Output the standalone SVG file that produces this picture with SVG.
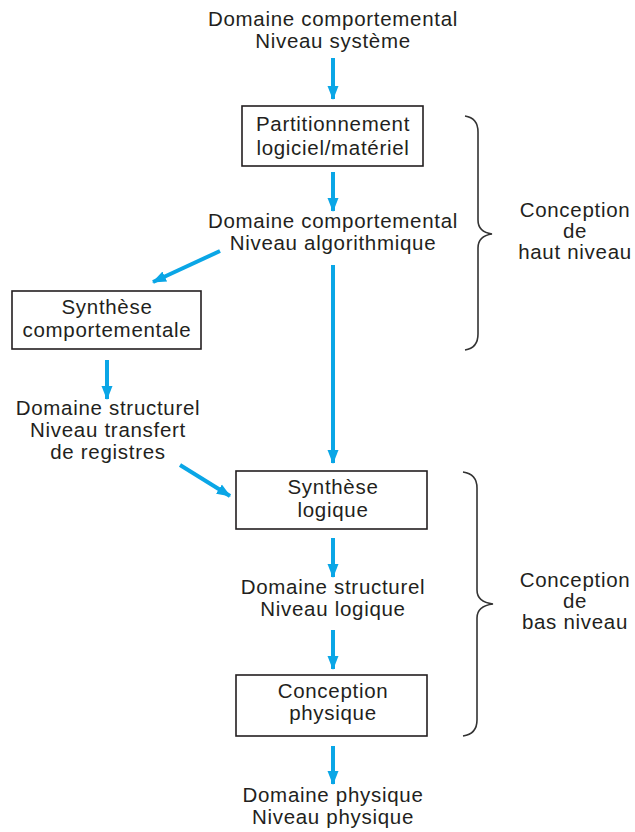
<svg xmlns="http://www.w3.org/2000/svg" width="635" height="832" viewBox="0 0 635 832">
<style>
text{font-family:"Liberation Sans",Arial,sans-serif;font-size:20.5px;letter-spacing:0.7px;fill:#231f20;text-anchor:middle}
.box{fill:#fff;stroke:#231f20;stroke-width:1.6}
.arr{stroke:#0aa6e6;stroke-width:4;fill:none;marker-end:url(#ah)}
.brace{fill:none;stroke:#333;stroke-width:1.6}
</style>
<defs>
<marker id="ah" markerUnits="userSpaceOnUse" markerWidth="14" markerHeight="14" viewBox="0 0 14 14" refX="13" refY="7" orient="auto">
<path d="M0,1.5 L14,7 L0,12.5 Z" fill="#0aa6e6"/>
</marker>
</defs>
<rect width="635" height="832" fill="#fff"/>
<g id="connectors">
<line class="arr" x1="333" y1="58" x2="333" y2="99"/>
<line class="arr" x1="333" y1="172" x2="333" y2="211"/>
<line class="arr" x1="220" y1="251" x2="153" y2="282"/>
<line class="arr" x1="333" y1="265" x2="333" y2="463"/>
<line class="arr" x1="107" y1="360" x2="107" y2="399"/>
<line class="arr" x1="180" y1="465" x2="230" y2="496"/>
<line class="arr" x1="333" y1="538" x2="333" y2="577"/>
<line class="arr" x1="333" y1="630" x2="333" y2="669"/>
<line class="arr" x1="333" y1="746" x2="333" y2="784"/>
</g>
<g id="n_top"><text x="333" y="26">Domaine comportemental</text><text x="333" y="48">Niveau système</text></g>
<g id="n_part"><rect class="box" x="242" y="106" width="181" height="60"/><text x="333" y="131">Partitionnement</text><text x="333" y="155">logiciel/matériel</text></g>
<g id="n_algo"><text x="333" y="228">Domaine comportemental</text><text x="333" y="250">Niveau algorithmique</text></g>
<g id="n_synthc"><rect class="box" x="12" y="291" width="189" height="58"/><text x="107" y="314">Synthèse</text><text x="107" y="337">comportementale</text></g>
<g id="n_rtl"><text x="108" y="415">Domaine structurel</text><text x="108" y="437">Niveau transfert</text><text x="108" y="459">de registres</text></g>
<g id="n_synthl"><rect class="box" x="236" y="471" width="191" height="58"/><text x="333" y="494">Synthèse</text><text x="333" y="517">logique</text></g>
<g id="n_logic"><text x="333" y="594">Domaine structurel</text><text x="333" y="616">Niveau logique</text></g>
<g id="n_phys"><rect class="box" x="236" y="675" width="191" height="61"/><text x="333" y="698">Conception</text><text x="333" y="720">physique</text></g>
<g id="n_bottom"><text x="333" y="802">Domaine physique</text><text x="333" y="824">Niveau physique</text></g>
<g id="brace_high">
<path class="brace" d="M465,116 Q478,118 478,132 L478,220 Q478,232 492,234 Q478,236 478,248 L478,334 Q478,348 465,350"/>
<text x="575" y="217">Conception</text><text x="575" y="238">de</text><text x="575" y="259">haut niveau</text>
</g>
<g id="brace_low">
<path class="brace" d="M463,472 Q477,474 477,488 L477,590 Q477,602 493,604 Q477,606 477,618 L477,720 Q477,734 463,736"/>
<text x="575" y="587">Conception</text><text x="575" y="608">de</text><text x="575" y="629">bas niveau</text>
</g>
</svg>
